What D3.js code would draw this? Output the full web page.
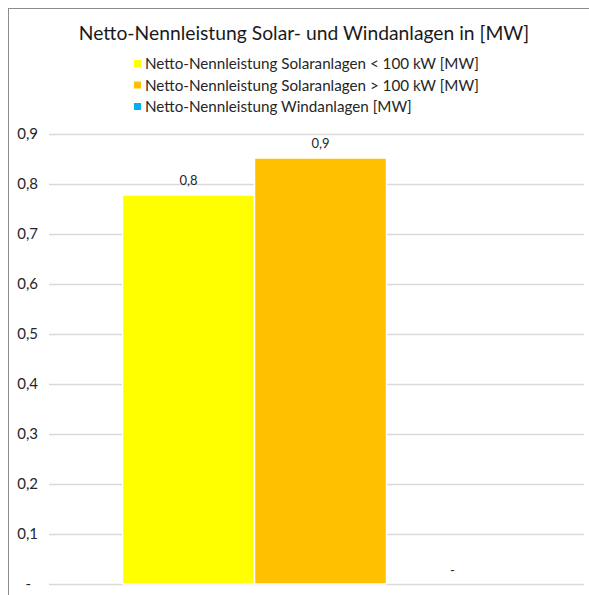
<!DOCTYPE html>
<html>
<head>
<meta charset="utf-8">
<script src="https://cdn.jsdelivr.net/npm/d3@7"></script>
<style>
  body { margin: 0; background: #fff; }
  text { font-family: Lato, sans-serif; fill: #404040; }
</style>
</head>
<body>
<div id="chart"></div>
<script>
// Chart data
const series = ["Netto-Nennleistung Solaranlagen < 100 kW [MW]",
                "Netto-Nennleistung Solaranlagen > 100 kW [MW]",
                "Netto-Nennleistung Windanlagen [MW]"];
const values = [0.778, 0.852, 0];
const valueLabels = ["0,8", "0,9", "-"];
const colors = ["#ffff00", "#ffc000", "#00b0f0"];
const yTicks = [0, 0.1, 0.2, 0.3, 0.4, 0.5, 0.6, 0.7, 0.8, 0.9];
const yTickLabels = ["-", "0,1", "0,2", "0,3", "0,4", "0,5", "0,6", "0,7", "0,8", "0,9"];

const W = 589, H = 595;
const svg = d3.select("#chart").append("svg")
  .attr("width", W).attr("height", H);

// outer frame (cut off on right and bottom)
svg.append("rect")
  .attr("x", 8.5).attr("y", 8.5)
  .attr("width", W + 10).attr("height", H + 10)
  .attr("fill", "#fff").attr("stroke", "#8c8c8c").attr("stroke-width", 1);

// Title
svg.append("text")
  .attr("x", 304).attr("y", 40)
  .attr("text-anchor", "middle")
  .style("font-size", "19.3px")
  .style("fill", "#1a1a1a")
  .text("Netto-Nennleistung Solar- und Windanlagen in [MW]");

// Legend
const legend = svg.append("g");
series.forEach((s, i) => {
  const g = legend.append("g").attr("transform", `translate(134, ${64 + i * 21.5})`);
  g.append("rect").attr("x", 0).attr("y", -4).attr("width", 7).attr("height", 7)
    .attr("fill", colors[i]);
  g.append("text").attr("x", 11).attr("y", 5)
    .style("font-size", "15.2px").style("fill", "#262626")
    .text(s);
});

// Scales
const plotLeft = 49, plotRight = 584;
const y = d3.scaleLinear().domain([0, 0.9]).range([584, 134]);
const x0 = d3.scaleBand().domain(["g"]).range([plotLeft + 4, plotRight + 4]).paddingInner(0).paddingOuter(0.1755);
const x1 = d3.scaleBand().domain(series).range([x0("g"), x0("g") + x0.bandwidth()]).paddingInner(0).paddingOuter(0);

// gridlines
svg.append("g")
  .attr("transform", `translate(${plotLeft},0)`)
  .call(d3.axisLeft(y).tickValues(yTicks).tickSize(-(plotRight - plotLeft)).tickFormat(""))
  .call(g => g.select(".domain").remove())
  .call(g => g.selectAll("line").attr("stroke", "#d9d9d9").attr("stroke-width", 1.3));

// y tick labels
svg.append("g")
  .selectAll("text")
  .data(yTicks)
  .join("text")
  .attr("x", (d, i) => i === 0 ? 31 : 38)
  .attr("y", d => y(d) + 5)
  .attr("text-anchor", "end")
  .style("font-size", "15px")
  .style("fill", "#262626")
  .text((d, i) => yTickLabels[i]);

// bars
svg.append("g")
  .selectAll("rect")
  .data(values)
  .join("rect")
  .attr("x", (d, i) => x1(series[i]))
  .attr("y", d => y(d))
  .attr("width", x1.bandwidth())
  .attr("height", d => y(0) - y(d))
  .attr("fill", (d, i) => colors[i])
  .attr("stroke", "#fff")
  .attr("stroke-width", 1.5);

// value labels
svg.append("g")
  .selectAll("text")
  .data(values)
  .join("text")
  .attr("x", (d, i) => x1(series[i]) + x1.bandwidth() / 2)
  .attr("y", (d, i) => i === 2 ? y(d) - 9 : y(d) - 10)
  .attr("text-anchor", "middle")
  .style("font-size", "13px")
  .style("fill", "#262626")
  .text((d, i) => valueLabels[i]);
</script>
</body>
</html>
